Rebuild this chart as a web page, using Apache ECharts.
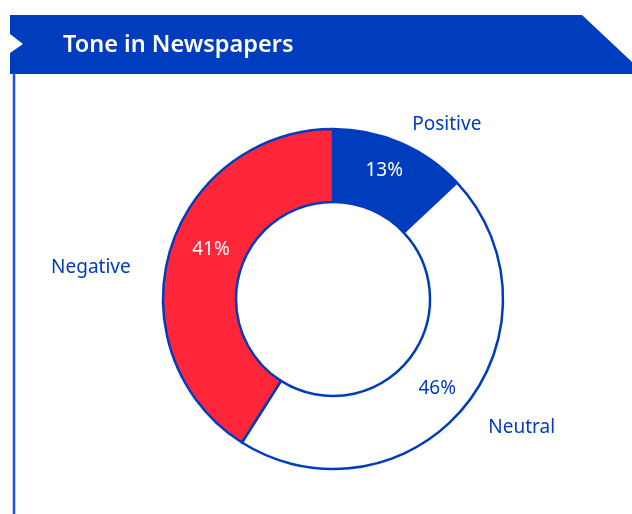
<!DOCTYPE html>
<html>
<head>
<meta charset="utf-8">
<script src="https://cdn.jsdelivr.net/npm/echarts@6/dist/echarts.min.js"></script>
<style>
html,body{margin:0;padding:0;background:#fff;}
#chart{width:632px;height:514px;}
</style>
</head>
<body>
<div id="chart"></div>
<script>
const titleText = 'Tone in Newspapers';
const categories = ['Positive', 'Neutral', 'Negative'];
const values = [13, 46, 41];
const fillColors = ['#003cbe', '#ffffff', '#ff2639'];
const valueLabelColors = ['#ffffff', '#003cbe', '#ffffff'];

const BLUE = '#003cbe';
const FONT = '"Noto Sans", "Open Sans", sans-serif';

const chart = echarts.init(document.getElementById('chart'), null, {renderer: 'canvas'});

const mainData = categories.map((c, i) => ({
  name: c,
  value: values[i],
  itemStyle: {color: fillColors[i]},
  label: {color: valueLabelColors[i]}
}));

const innerShift = [[-3, -3], [-1, 3], [9, -11]];
const outerLen = [[22, 0], [29, 0], [25, 8]];
const outerShift = [[-2, 2], [-3, 2], [-2, 23]];
const nameData = categories.map((c, i) => ({
  name: c,
  value: values[i],
  labelLine: {show: false, length: outerLen[i][0], length2: outerLen[i][1]}
}));

const option = {
  animation: false,
  graphic: [
    {
      type: 'polygon',
      shape: {points: [[10, 15], [582, 15], [632, 62], [632, 74], [10, 74], [10, 53], [23, 44], [10, 34]]},
      style: {fill: BLUE},
      z: 1
    },
    {
      type: 'line',
      shape: {x1: 14, y1: 73, x2: 14, y2: 514},
      style: {stroke: '#1f4fd8', lineWidth: 2.5},
      z: 1
    },
    {
      type: 'text',
      left: 63,
      top: 33,
      style: {text: titleText, fill: '#ffffff', font: '600 23.5px ' + FONT},
      z: 2
    }
  ],
  series: [
    {
      type: 'pie',
      center: [333, 299],
      radius: [97, 170],
      startAngle: 90,
      clockwise: true,
      avoidLabelOverlap: false,
      silent: true,
      itemStyle: {borderColor: BLUE, borderWidth: 2.5},
      label: {
        show: true,
        position: 'inside',
        formatter: '{c}%',
        fontFamily: FONT,
        fontSize: 19
      },
      labelLayout: function (p) {
        const s = innerShift[p.dataIndex];
        return {dx: s[0], dy: s[1]};
      },
      labelLine: {show: false},
      data: mainData
    },
    {
      type: 'pie',
      center: [333, 299],
      radius: [97, 170],
      startAngle: 90,
      clockwise: true,
      avoidLabelOverlap: false,
      silent: true,
      z: 3,
      itemStyle: {color: 'rgba(0,0,0,0)', borderWidth: 0},
      label: {
        show: true,
        position: 'outside',
        formatter: '{b}',
        color: BLUE,
        fontFamily: FONT,
        fontSize: 19
      },
      labelLayout: function (p) {
        const s = outerShift[p.dataIndex];
        return {dx: s[0], dy: s[1]};
      },
      labelLine: {show: false},
      data: nameData
    }
  ]
};

chart.setOption(option);
</script>
</body>
</html>
